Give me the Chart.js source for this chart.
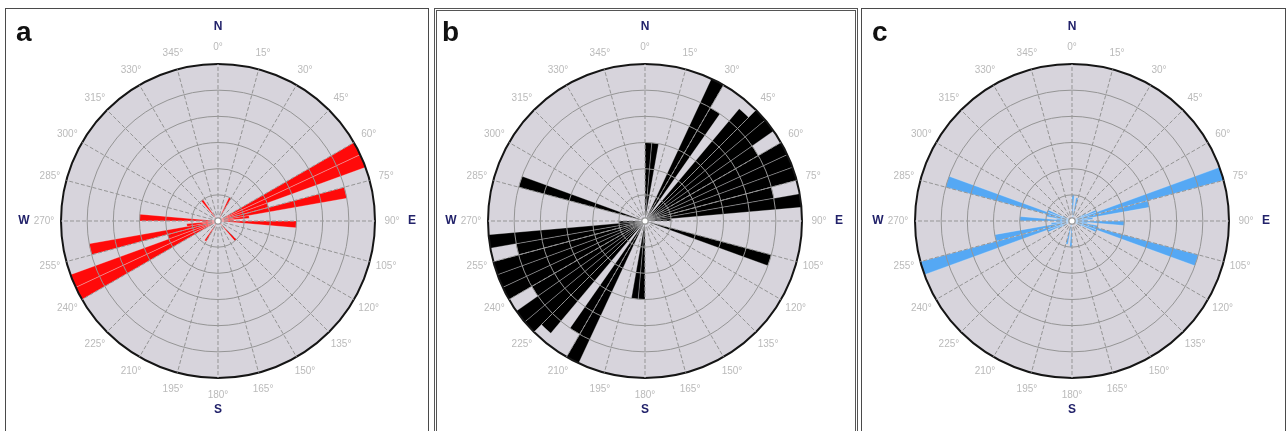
<!DOCTYPE html>
<html>
<head>
<meta charset="utf-8">
<title>Rose diagrams</title>
<script src="https://cdn.jsdelivr.net/npm/chart.js@4.4.1/dist/chart.umd.min.js"></script>
<style>
  html, body { margin: 0; padding: 0; background: #fff; }
  body { width: 1287px; height: 431px; position: relative; overflow: hidden; font-family: "Liberation Sans", Arial, sans-serif; }
  .panel { position: absolute; top: 0; height: 431px; }
  .panel canvas { position: absolute; left: 0; top: 0; }
  .frame { position: absolute; top: 8px; height: 450px; border: 1.5px solid #4a4a4a; box-sizing: border-box; pointer-events: none; }
  .frame.double { border: 3px double #555; }
  .tag { position: absolute; top: 16px; font: bold 28px "Liberation Sans", Arial, sans-serif; color: #111; }
</style>
</head>
<body>
<div class="frame" style="left:5px; width:424px;"></div>
<div class="frame double" style="left:434px; width:424px;"></div>
<div class="frame" style="left:861px; width:425px;"></div>

<div class="panel" style="left:0; width:430px;"><canvas id="roseA" width="430" height="431"></canvas></div>
<div class="panel" style="left:430px; width:428px;"><canvas id="roseB" width="428" height="431"></canvas></div>
<div class="panel" style="left:858px; width:429px;"><canvas id="roseC" width="429" height="431"></canvas></div>

<div class="tag" style="left:16px;">a</div>
<div class="tag" style="left:442px;">b</div>
<div class="tag" style="left:872px;">c</div>

<script>
// 5 degree bins, clockwise from north (0-5, 5-10, ... 355-360)
const binLabels = Array.from({ length: 72 }, (_, i) => (i * 5) + '-' + (i * 5 + 5) + '°');

// azimuth tick labels every 15 degrees
const angleTicks = ['0°', '15°', '30°', '45°', '60°', '75°', '90°', '105°', '120°', '135°', '150°', '165°',
                    '180°', '195°', '210°', '225°', '240°', '255°', '270°', '285°', '300°', '315°', '330°', '345°'];
const compass = ['N', 'E', 'S', 'W'];

// frequencies per bin (one row = 60 degrees)
const roseA = [
    0, 0, 0, 0, 0, 5, 0, 0, 0, 0, 0, 0,
    30, 30, 10, 25, 6, 3, 15, 0, 0, 0, 0, 0,
    0, 0, 0, 5, 0, 0, 0, 0, 0, 0, 0, 0,
    0, 0, 0, 0, 0, 0, 4.5, 0, 0, 0, 0, 0,
    30, 30, 10, 25, 6, 3, 15, 0, 0, 0, 0, 0,
    0, 0, 0, 0, 5, 0, 0, 0, 0, 0, 0, 0
];
const roseB = [
    15, 15, 0, 0, 0, 30, 25, 0, 28, 30, 30, 25,
    30, 30, 30, 25, 30, 5, 0, 0, 0, 25, 0, 0,
    0, 0, 0, 0, 0, 0, 0, 0, 0, 0, 0, 0,
    15, 15, 0, 0, 0, 30, 25, 0, 28, 30, 30, 25,
    30, 30, 30, 25, 30, 5, 0, 0, 0, 25, 0, 0,
    0, 0, 0, 0, 0, 0, 0, 0, 0, 0, 0, 0
];
const roseC = [
    5, 0, 4.5, 0, 0, 0, 0, 0, 0, 0, 0, 0,
    3, 5, 30, 15, 4, 3, 10, 3, 5, 25, 5, 2,
    0, 0, 0, 0, 0, 0, 0, 0, 0, 0, 0, 0,
    5, 0, 4.5, 0, 0, 0, 0, 0, 0, 0, 0, 0,
    3, 5, 30, 15, 4, 3, 10, 3, 5, 25, 5, 2,
    0, 0, 0, 0, 0, 0, 0, 0, 0, 0, 0, 0
];
const radialMax = 30;
const radialStep = 5;

// disc background under the bars, azimuth + compass labels on top
const roseDecor = {
    id: 'roseDecor',
    beforeDraw(chart) {
        const r = chart.scales.r;
        const ctx = chart.ctx;
        ctx.save();
        ctx.beginPath();
        ctx.arc(r.xCenter, r.yCenter, r.drawingArea, 0, Math.PI * 2);
        ctx.fillStyle = '#d7d4dc';
        ctx.fill();
        ctx.restore();
    },
    afterDraw(chart) {
        const r = chart.scales.r;
        const ctx = chart.ctx;
        ctx.save();
        ctx.beginPath();
        ctx.arc(r.xCenter, r.yCenter, 2.5, 0, Math.PI * 2);
        ctx.fillStyle = '#ffffff';
        ctx.fill();

        ctx.textAlign = 'center';
        ctx.textBaseline = 'middle';
        ctx.font = '10px "Liberation Sans", Arial, sans-serif';
        ctx.fillStyle = '#bababa';
        angleTicks.forEach((t, k) => {
            const p = r.getPointPosition(k * 3, r.drawingArea + 17);
            ctx.fillText(t, p.x, p.y);
        });

        ctx.font = 'bold 12px "Liberation Sans", Arial, sans-serif';
        ctx.fillStyle = '#22226a';
        compass.forEach((c, k) => {
            const extra = c === 'S' ? 32 : 37;
            const p = r.getPointPosition(k * 18, r.drawingArea + extra);
            ctx.fillText(c, p.x, p.y);
        });
        ctx.restore();
    }
};

function makeRose(id, values, color, pad) {
    const ctx = document.getElementById(id).getContext('2d');
    return new Chart(ctx, {
        type: 'polarArea',
        data: {
            labels: binLabels,
            datasets: [{
                data: values,
                backgroundColor: color,
                borderColor: 'rgba(238, 238, 242, 0.5)',
                borderWidth: (c) => (c.raw > 0 ? 0.6 : 0)
            }]
        },
        options: {
            responsive: false,
            animation: false,
            events: [],
            layout: { padding: pad },
            plugins: {
                legend: { display: false },
                tooltip: { enabled: false }
            },
            scales: {
                r: {
                    min: 0,
                    max: radialMax,
                    startAngle: 0,
                    ticks: { display: false, stepSize: radialStep },
                    pointLabels: { display: false },
                    grid: {
                        z: 1,
                        circular: true,
                        color: (c) => (c.tick.value === radialMax ? '#151515' : '#959595'),
                        lineWidth: (c) => (c.tick.value === radialMax ? 2 : 1)
                    },
                    angleLines: {
                        display: true,
                        color: '#959595',
                        lineWidth: (c) => (c.index % 3 === 0 ? 1 : 0),
                        borderDash: [4, 2]
                    }
                }
            }
        },
        plugins: [roseDecor]
    });
}

makeRose('roseA', roseA, '#ff0a0a', { left: 61, top: 64, right: 55, bottom: 53 });
makeRose('roseB', roseB, '#000000', { left: 58, top: 64, right: 56, bottom: 53 });
makeRose('roseC', roseC, '#55a8f4', { left: 57, top: 64, right: 58, bottom: 53 });
</script>
</body>
</html>
